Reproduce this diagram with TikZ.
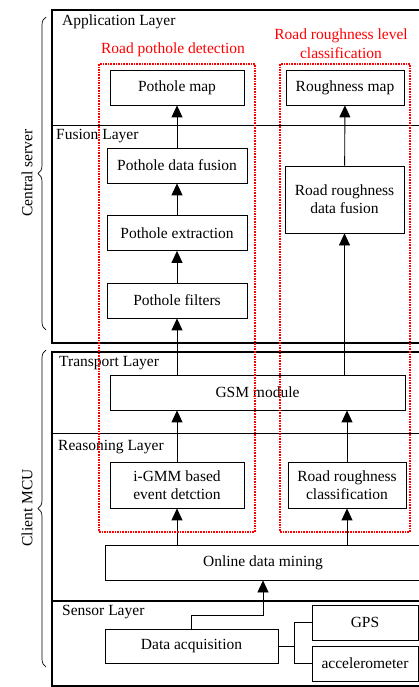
\documentclass[tikz,border=0pt]{standalone}
\usepackage{fontspec}
\setmainfont{Liberation Serif}
\usetikzlibrary{arrows.meta, positioning, calc, decorations.pathreplacing}
\tikzset{
  blk/.style={draw, line width=0.8pt, fill=white, align=center,
              inner sep=1pt, font=\fontsize{15.5}{18}\selectfont},
  lyr/.style={anchor=west, inner sep=0pt, font=\fontsize{15.5}{18}\selectfont},
  grp/.style={draw=red, line width=1.1pt, dash pattern=on 1.6pt off 1pt},
  grplbl/.style={text=red, align=center, inner sep=0pt,
                 font=\fontsize{15.5}{19}\selectfont},
  arr/.style={-{Triangle[length=12pt,width=11pt]}, line width=0.9pt},
  link/.style={line width=0.6pt},
  frame/.style={line width=1.1pt},
  brc/.style={decorate, decoration={brace, amplitude=8pt}, line width=0.7pt}
}

\begin{document}
\begin{tikzpicture}[x=1pt, y=-1pt]
  \useasboundingbox (0,0) rectangle (419,687);
  \clip (0,0) rectangle (419,687);

  % Server and client frames
  \draw[frame] (52,10) rectangle (440,343);
  \draw[frame] (52,352) rectangle (440,686);
  \draw[link] (52,125) -- (440,125);
  \draw[link] (52,433) -- (440,433);
  \draw[frame] (52,601) -- (440,601);

  % Layer names
  \node[lyr] (applyr) at (62,22) {Application Layer};
  \node[lyr] (fuslyr) at (56,136) {Fusion Layer};
  \node[lyr] (trlyr) at (59,363) {Transport Layer};
  \node[lyr] (rslyr) at (58,447) {Reasoning Layer};
  \node[lyr] (snlyr) at (62,612) {Sensor Layer};

  % Pothole branch
  \node[blk, minimum width=134, minimum height=35] (pmap) at (177,87.5) {Pothole map};
  \node[blk, minimum width=140, minimum height=35] (pfus) at (177,165.5) {Pothole data fusion};
  \node[blk, minimum width=140, minimum height=35] (pext) at (177,233) {Pothole extraction};
  \node[blk, minimum width=140, minimum height=35] (pfilt) at (177,300.5) {Pothole filters};

  % Roughness branch
  \node[blk, minimum width=118, minimum height=35] (rmap) at (345,87.5) {Roughness map};
  \node[blk, minimum width=119, minimum height=67] (rfus) at (344.5,199.5) {Road roughness\\data fusion};

  % Client side
  \node[blk, minimum width=295, minimum height=35] (gsm) at (257.5,392.5) {GSM module};
  \node[blk, minimum width=134, minimum height=46] (ievt) at (177,485) {i-GMM based\\event detction};
  \node[blk, minimum width=118, minimum height=46] (rclass) at (347,485) {Road roughness\\classification};
  \node[blk, minimum width=316, minimum height=35] (mining) at (263,562.5) {Online data mining};
  \node[blk, minimum width=173, minimum height=34] (acq) at (191.5,646) {Data acquisition};
  \node[blk, minimum width=106, minimum height=35] (gps) at (365,622.5) {GPS};
  \node[blk, minimum width=106, minimum height=35] (accel) at (365,663.5) {accelerometer};

  % Arrows
  \draw[arr] (pfilt) -- (pext);
  \draw[arr] (pext) -- (pfus);
  \draw[arr] (pfus) -- (pmap);
  \draw[arr] (rfus) -- (rmap);
  \draw[arr] (gsm.north -| pfilt.south) -- (pfilt.south);
  \draw[arr, line width=0.5pt] (gsm.north -| rfus.south) -- (rfus.south);
  \draw[arr] (ievt.north) -- (ievt.north |- gsm.south);
  \draw[arr] (rclass.north) -- (rclass.north |- gsm.south);
  \draw[arr] (mining.north -| ievt.south) -- (ievt.south);
  \draw[arr] (mining.north -| rclass.south) -- (rclass.south);
  \draw[arr, line width=0.7pt] (acq.north) -- ++(0,-13) -| (mining.south);

  % Sensors
  \draw[link] (acq.east) -- ++(16,0) coordinate (split);
  \draw[link] (split) |- (gps.west);
  \draw[link] (split) |- (accel.west);

  % Task groups
  \draw[grp] (99,64) rectangle (255,532);
  \draw[grp] (280,64) rectangle (410,532);
  \node[grplbl] (ptitle) at (173,50) {Road pothole detection};
  \node[grplbl] (rtitle) at (341,44) {Road roughness level\\classification};

  % Braces
  \draw[brc] (46,330) -- (46,17);
  \draw[brc] (46,667) -- (46,350);
  \node[rotate=90, font=\fontsize{15.5}{18}\selectfont] (server) at (27,173) {Central server};
  \node[rotate=90, font=\fontsize{15.5}{18}\selectfont] (client) at (27,508) {Client MCU};
\end{tikzpicture}
\end{document}
